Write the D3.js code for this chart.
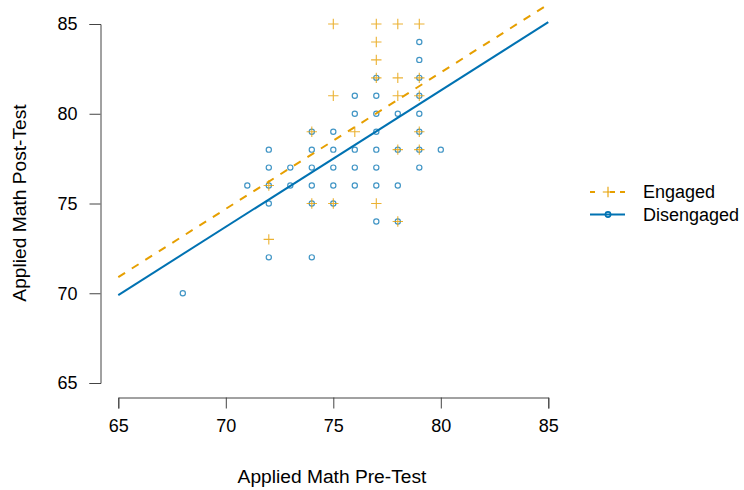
<!DOCTYPE html>
<html lang="en">
<head>
  <meta charset="UTF-8">
  <title>Applied Math Pre/Post</title>
  <script src="https://d3js.org/d3.v7.min.js"></script>
  <style>
    body { margin: 0; padding: 0; background: #fff; }
    svg { display: block; font-family: Arial, "Liberation Sans", sans-serif; }
    .axis path, .axis line { stroke: #444; stroke-width: 1; }
    .axis text { font-size: 18px; fill: #000; }
  </style>
</head>
<body>
  <svg id="chart" width="744" height="490"></svg>

  <script>
    const engagedPre  = [75, 77, 78, 79, 77, 77, 77, 78, 79, 75, 78, 79, 74, 76, 79, 78, 79, 72, 74, 75, 77, 78, 72];
    const engagedPost = [85, 85, 85, 85, 84, 83, 82, 82, 82, 81, 81, 81, 79, 79, 79, 78, 78, 76, 75, 75, 75, 74, 73];

    const disengagedPre  = [79, 79, 77, 79, 76, 77, 79, 76, 77, 78, 79, 74, 75, 77, 79,
                            72, 74, 75, 76, 77, 78, 79, 80, 72, 73, 74, 75, 76, 77, 79,
                            71, 72, 73, 74, 75, 76, 77, 78, 72, 74, 75, 77, 78, 72, 74, 68];
    const disengagedPost = [84, 83, 82, 82, 81, 81, 81, 80, 80, 80, 80, 79, 79, 79, 79,
                            78, 78, 78, 78, 78, 78, 78, 78, 77, 77, 77, 77, 77, 77, 77,
                            76, 76, 76, 76, 76, 76, 76, 76, 75, 75, 75, 74, 74, 72, 72, 70];

    // fitted lines (ends at x = 65 and x = 85)
    const fitX = [65, 85];
    const engagedFit = [70.9, 86.1];
    const disengagedFit = [69.9, 85.1];

    const ticks = [65, 70, 75, 80, 85];
    const seriesNames = ["Engaged", "Disengaged"];
    const orange = "#E69F00", blue = "#0072B2";

    const svg = d3.select("#chart");
    const x = d3.scaleLinear().domain([65, 85]).range([118.3, 548.3]);
    const y = d3.scaleLinear().domain([65, 85]).range([383, 24]);

    // axes (R style: detached, line spans first to last tick)
    const gx = svg.append("g").attr("class", "axis")
      .attr("transform", "translate(0,397.5)")
      .call(d3.axisBottom(x).tickValues(ticks).tickSizeOuter(0).tickSize(11).tickPadding(18));
    gx.selectAll("text").attr("dy", "0.3em");

    const gy = svg.append("g").attr("class", "axis")
      .attr("transform", "translate(100.5,0)")
      .call(d3.axisLeft(y).tickValues(ticks).tickSizeOuter(0).tickSize(11).tickPadding(12));

    svg.append("text")
      .attr("x", 332).attr("y", 483)
      .attr("text-anchor", "middle")
      .style("font-size", "19.2px")
      .text("Applied Math Pre-Test");

    svg.append("text")
      .attr("transform", "translate(26,203) rotate(-90)")
      .attr("text-anchor", "middle")
      .style("font-size", "19.2px")
      .text("Applied Math Post-Test");

    const plusPath = "M-5.2,0H5.2M0,-5.2V5.2";

    // disengaged circles
    svg.append("g").selectAll("circle")
      .data(d3.range(disengagedPre.length))
      .join("circle")
      .attr("cx", i => x(disengagedPre[i]))
      .attr("cy", i => y(disengagedPost[i]))
      .attr("r", 2.6)
      .attr("fill", "none")
      .attr("stroke", blue)
      .attr("stroke-opacity", 0.75)
      .attr("stroke-width", 1.2);

    // engaged pluses
    svg.append("g").selectAll("path")
      .data(d3.range(engagedPre.length))
      .join("path")
      .attr("transform", i => `translate(${x(engagedPre[i])},${y(engagedPost[i])})`)
      .attr("d", plusPath)
      .attr("stroke", orange)
      .attr("stroke-opacity", 0.8)
      .attr("stroke-width", 1.1);

    // regression lines
    const line = d3.line().x(d => x(d[0])).y(d => y(d[1]));
    svg.append("path")
      .attr("d", line(fitX.map((v, i) => [v, disengagedFit[i]])))
      .attr("fill", "none").attr("stroke", blue).attr("stroke-width", 2);
    svg.append("path")
      .attr("d", line(fitX.map((v, i) => [v, engagedFit[i]])))
      .attr("fill", "none").attr("stroke", orange).attr("stroke-width", 2)
      .attr("stroke-dasharray", "8,8");

    // legend
    const lg = svg.append("g");
    seriesNames.forEach((name, i) => {
      const ly = 192 + i * 22.5;
      const col = i === 0 ? orange : blue;
      lg.append("line")
        .attr("x1", 590).attr("x2", 625).attr("y1", ly).attr("y2", ly)
        .attr("stroke", col).attr("stroke-width", 2)
        .attr("stroke-dasharray", i === 0 ? "5,10,0,5,5" : null);
      if (i === 0) {
        lg.append("path").attr("transform", `translate(608,${ly})`)
          .attr("d", plusPath).attr("stroke", col).attr("stroke-width", 1.1);
      } else {
        lg.append("circle").attr("cx", 608).attr("cy", ly).attr("r", 2.6)
          .attr("fill", "none").attr("stroke", col).attr("stroke-width", 1.6);
      }
      lg.append("text")
        .attr("x", 643).attr("y", ly).attr("dy", "0.35em")
        .style("font-size", "18px")
        .text(name);
    });
  </script>
</body>
</html>
